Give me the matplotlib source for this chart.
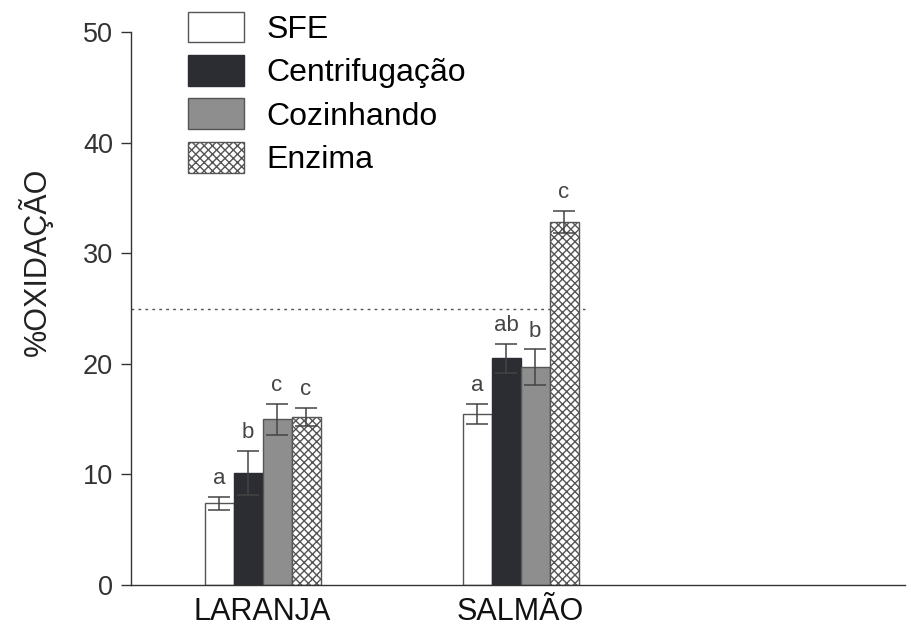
import numpy as np
import matplotlib.pyplot as plt

plt.rcParams['font.family'] = ['Liberation Sans', 'DejaVu Sans']
plt.rcParams['hatch.color'] = '#555555'
plt.rcParams['hatch.linewidth'] = 1.0

grupos = ['LARANJA', 'SALMÃO']
metodos = ['SFE', 'Centrifugação', 'Cozinhando', 'Enzima']

# % oxidação por método (linhas) e grupo (colunas)
valores = np.array([
    [7.4, 15.5],
    [10.1, 20.5],
    [15.0, 19.7],
    [15.2, 32.8],
])
erros = np.array([
    [0.6, 0.9],
    [2.0, 1.3],
    [1.4, 1.6],
    [0.8, 1.0],
])
letras = [
    ['a', 'a'],
    ['b', 'ab'],
    ['c', 'b'],
    ['c', 'c'],
]
limite = 25

cores = ['white', '#2b2d33', '#8e8e8e', 'white']
hatches = [None, None, None, 'xxxx']
bordas = ['#555555', '#2b2d33', '#555555', '#555555']

fig = plt.figure(figsize=(9.11, 6.34), dpi=100)
ax = fig.add_axes([0.1438, 0.0773, 0.8496, 0.8722])

x = np.arange(len(grupos))
w = 0.1124
for i, m in enumerate(metodos):
    pos = x + (i - 1.5) * w
    ax.bar(pos, valores[i], w, color=cores[i], edgecolor=bordas[i],
           hatch=hatches[i], linewidth=1.0, label=m, zorder=2)
    ax.errorbar(pos, valores[i], yerr=erros[i], fmt='none', ecolor='#444444',
                elinewidth=1.1, capsize=8, capthick=1.1, zorder=3)
    for j in range(len(grupos)):
        ax.text(pos[j], valores[i][j] + erros[i][j] + 0.7, letras[i][j],
                ha='center', va='bottom', fontsize=16, color='#444444')

ax.plot([-0.51, 1.25], [limite, limite], ls=(0, (2, 3)), color='#555555',
        lw=1.0, zorder=1)

ax.set_xlim(-0.51, 2.49)
ax.set_ylim(0, 50)
ax.set_xticks(x)
ax.set_xticklabels(grupos, fontsize=22)
ax.set_yticks(np.arange(0, 51, 10))
ax.tick_params(axis='y', labelsize=19.5, labelcolor='#333333', length=7,
               width=1.0, color='#333333', pad=6)
ax.tick_params(axis='x', length=0, pad=9, labelcolor='#111111')
for s in ['top', 'right']:
    ax.spines[s].set_visible(False)
for s in ['left', 'bottom']:
    ax.spines[s].set_color('#333333')
    ax.spines[s].set_linewidth(1.0)

ax.set_ylabel('%OXIDAÇÃO', fontsize=22, color='#222222')
ax.yaxis.set_label_coords(-0.101, 0.584)

ax.legend(loc='upper left', bbox_to_anchor=(0.057, 1.06), frameon=False,
          fontsize=23, handlelength=1.75, handleheight=1.1,
          labelspacing=0.32, handletextpad=0.7, borderaxespad=0)

fig.savefig('out.png', dpi=100)
